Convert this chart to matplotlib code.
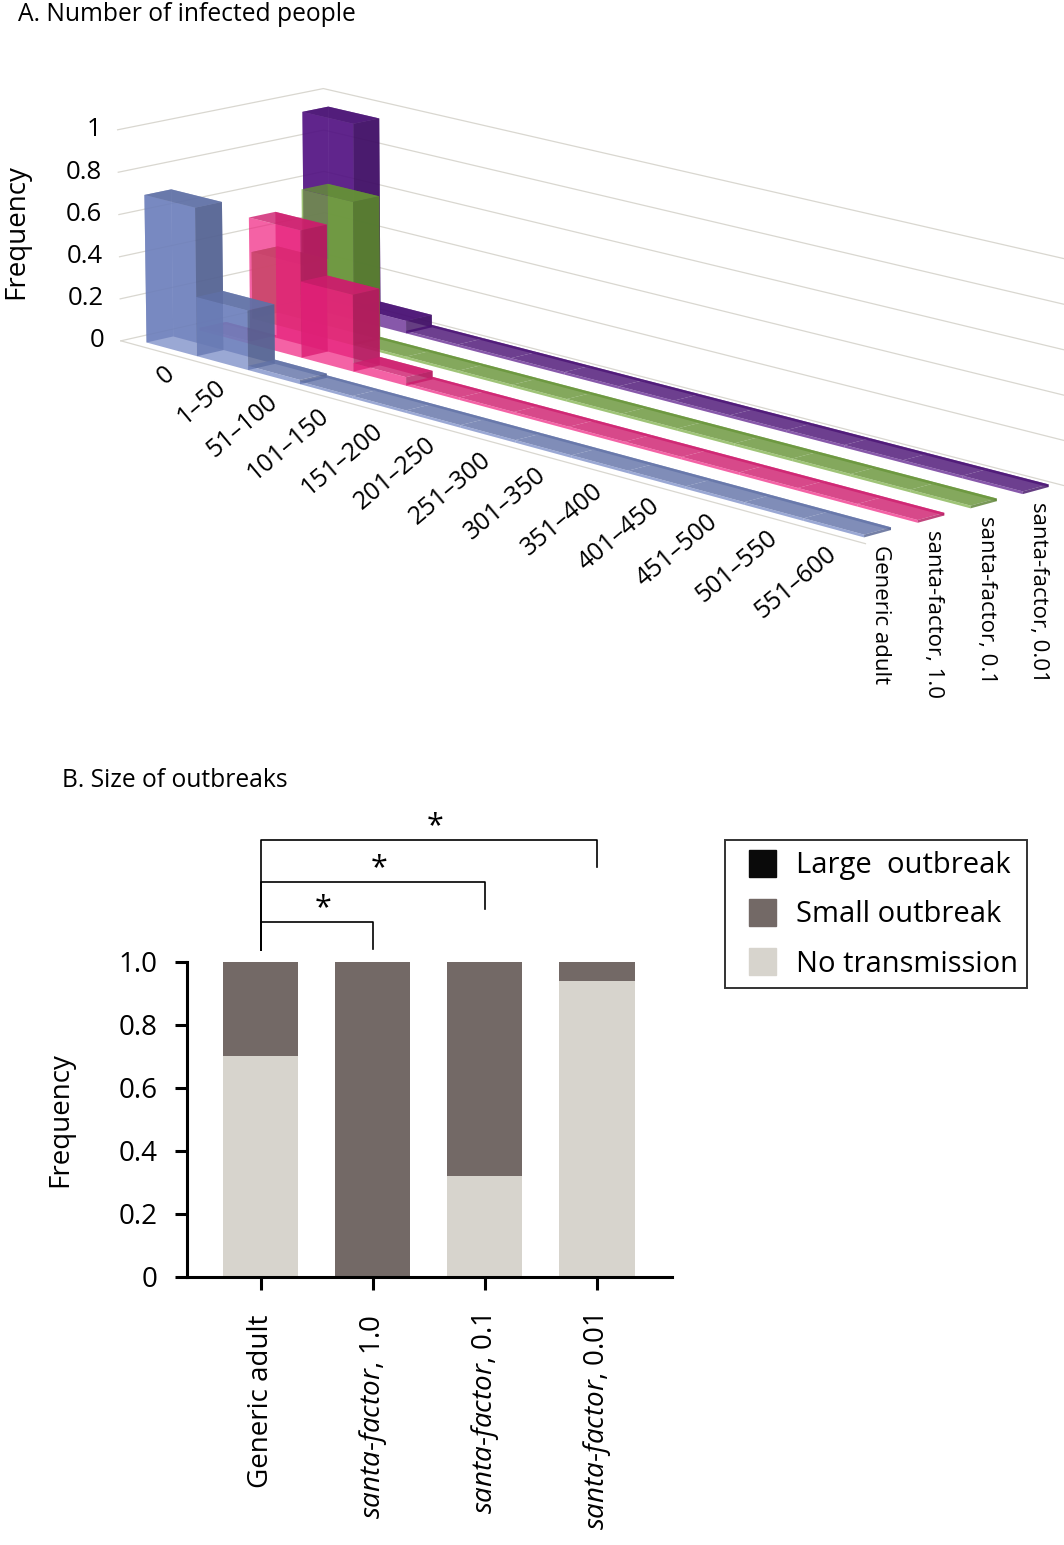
import numpy as np
import matplotlib
matplotlib.use("Agg")
import matplotlib.pyplot as plt
from matplotlib.patches import Patch, Rectangle
from matplotlib.legend_handler import HandlerPatch
from matplotlib.transforms import offset_copy
from mpl_toolkits.mplot3d import proj3d

plt.rcParams['font.family'] = ['Open Sans', 'DejaVu Sans']
plt.rcParams['mathtext.fontset'] = 'custom'
plt.rcParams['mathtext.rm'] = 'Open Sans'
plt.rcParams['mathtext.it'] = 'Open Sans:italic'

# --- Panel A data: frequency of outbreak sizes per scenario ---
size_bins = ['0', '1–50', '51–100', '101–150', '151–200', '201–250', '251–300',
             '301–350', '351–400', '401–450', '451–500', '501–550', '551–600']
series_a = ['Generic adult', 'santa-factor, 1.0', 'santa-factor, 0.1', 'santa-factor, 0.01']
freq_generic = [0.70, 0.28, 0.02, 0, 0, 0, 0, 0, 0, 0, 0, 0, 0]
freq_santa_1 = [0.00, 0.60, 0.36, 0.04, 0, 0, 0, 0, 0, 0, 0, 0, 0]
freq_santa_01 = [0.32, 0.68, 0.00, 0, 0, 0, 0, 0, 0, 0, 0, 0, 0]
freq_santa_001 = [0.94, 0.06, 0.00, 0, 0, 0, 0, 0, 0, 0, 0, 0, 0]
colors_a = ['#7083c2', '#f0207f', '#76ab3e', '#541186']
z_ticks = [0, 0.2, 0.4, 0.6, 0.8, 1]
z_ticklabels = ['0', '0.2', '0.4', '0.6', '0.8', '1']

# --- Panel B data: outbreak class per scenario ---
groups_b = ['Generic adult', '$\\mathit{santa}$-$\\mathit{factor}$, 1.0',
            '$\\mathit{santa}$-$\\mathit{factor}$, 0.1', '$\\mathit{santa}$-$\\mathit{factor}$, 0.01']
no_transmission = [0.70, 0.00, 0.32, 0.94]
small_outbreak = [0.30, 1.00, 0.68, 0.06]
large_outbreak = [0.0, 0.0, 0.0, 0.0]
y_ticks_b = [0, 0.2, 0.4, 0.6, 0.8, 1.0]
y_ticklabels_b = ['0', '0.2', '0.4', '0.6', '0.8', '1.0']
sig_pairs = [(0, 1), (0, 2), (0, 3)]

fig = plt.figure(figsize=(10.64, 15.45), dpi=100)

# ================= Panel A =================
# 3D axes are drawn in a square box, so give it a square rect
ax = fig.add_axes([0.03, 0.4505, 1.0, 1064 / 1545], projection='3d')
ax.patch.set_alpha(0)
all_freq = [freq_generic, freq_santa_1, freq_santa_01, freq_santa_001]
depth = 0.5
# face order of bar3d: -z, +z, -y, +y, -x, +x
face_shade = [0.85, 0.86, 1.0, 0.85, 0.85, 0.74]
face_alpha = [0.0, 0.8, 0.7, 0.7, 0.7, 0.8]
xs, ys, dzs, face_cols = [], [], [], []
for r, vals in enumerate(all_freq):
    base = np.array(matplotlib.colors.to_rgb(colors_a[r]))
    hts = [max(v, 0.012) for v in vals]
    for i, h in enumerate(hts):
        xs.append(i)
        ys.append(r)
        dzs.append(h)
        for k, (f, a) in enumerate(zip(face_shade, face_alpha)):
            # hide internal faces shared with a neighbouring bar
            if k == 4 and i > 0:
                a = 0.0
            if k == 5 and i < len(hts) - 1 and hts[i + 1] >= h:
                a = 0.0
            face_cols.append(tuple(base * f) + (a,))
ax.bar3d(xs, ys, np.zeros(len(xs)), 1, depth, dzs, color=face_cols,
         shade=False, edgecolor='none')

n = len(size_bins)
xmin, xmax = -0.3, n + 0.2
ymin, ymax = -0.2, len(series_a) - 0.3
ax.set_xlim(xmin, xmax)
ax.set_ylim(ymin, ymax)
ax.set_zlim(0, 1)
ax.set_box_aspect((5.25, 1.4, 1.1), zoom=1.035)
ax.set_proj_type('persp', focal_length=1.3)
ax.view_init(elev=14, azim=-44)
ax.set_axis_off()

# wall gridlines
grid_col = '#d9d7d0'
for z in z_ticks:
    ax.plot([xmin, xmin, xmax], [ymin, ymax, ymax], [z, z, z], color=grid_col, lw=0.9)
ax.plot([xmin, xmax], [ymin, ymin], [0, 0], color=grid_col, lw=0.9)

# 3D tick labels, placed in projected 2D coordinates
M = ax.get_proj()


def label3d(x, y, z, s, dx=0, dy=0, **kw):
    x2, y2, _ = proj3d.proj_transform(x, y, z, M)
    tr = offset_copy(ax.transData, fig=fig, x=dx, y=dy, units='points')
    ax.text2D(x2, y2, s, transform=tr, **kw)


for z, lab in zip(z_ticks, z_ticklabels):
    label3d(xmin, ymin, z, lab, dx=-12, ha='right', va='center', fontsize=18.5)
for i, lab in enumerate(size_bins):
    label3d(i + 0.5, ymin, 0, lab, dx=2, dy=-7, ha='right', va='top', rotation=40,
            rotation_mode='anchor', fontsize=18)
for r, lab in enumerate(series_a):
    label3d(n, r + depth / 2, 0, lab, dx=2, dy=-8, ha='center', va='top', rotation=-90, fontsize=16)

fig.text(0.017, 0.999, 'A. Number of infected people', fontsize=17.7, va='top')
fig.text(0.002, 0.85, 'Frequency', rotation=90, fontsize=20, va='center', ha='left')

# ================= Panel B =================
fig.text(0.058, 0.503, 'B. Size of outbreaks', fontsize=17.7, va='top')
axb = fig.add_axes([0.1758, 0.1735, 0.4558, 0.2039])
x = np.arange(len(groups_b))
w = 0.67
axb.bar(x, no_transmission, w, color='#d7d4cd')
axb.bar(x, small_outbreak, w, bottom=no_transmission, color='#736966')
axb.bar(x, large_outbreak, w, bottom=np.add(no_transmission, small_outbreak), color='#0a0a0a')
axb.set_xlim(-0.66, 3.67)
axb.set_ylim(0, 1.0)
axb.set_yticks(y_ticks_b)
axb.set_yticklabels(y_ticklabels_b, fontsize=20)
axb.set_xticks(x)
axb.set_xticklabels(groups_b, rotation=90, fontsize=20, va='top', ha='center')
axb.set_ylabel('Frequency', fontsize=20, labelpad=32)
for s in ['top', 'right']:
    axb.spines[s].set_visible(False)
for s in ['left', 'bottom']:
    axb.spines[s].set_linewidth(2.2)
axb.tick_params(axis='both', width=2.2, length=9)
axb.tick_params(axis='y', pad=12)
axb.tick_params(axis='x', pad=18)

# significance brackets
levels = [1.127, 1.254, 1.387]
for (a, b), lev in zip(sig_pairs, levels):
    axb.plot([a, a, b, b], [1.038, lev, lev, lev - 0.085], color='black', lw=1.2, clip_on=False)
    axb.text((a + b) / 2 + 0.05, lev - 0.005, '*', ha='center', va='bottom', fontsize=22, clip_on=False)


def square_patch(legend, orig_handle, xdescent, ydescent, width, height, fontsize):
    # square swatch pushed to the right side of the handle box
    return Rectangle((width - height - xdescent, -ydescent), height, height)


handles = [Patch(color='#0a0a0a', label='Large  outbreak'),
           Patch(color='#736966', label='Small outbreak'),
           Patch(color='#d7d4cd', label='No transmission')]
leg = fig.legend(handles=handles, loc='upper left', bbox_to_anchor=(0.681, 0.456),
                 fontsize=21, frameon=True, fancybox=False, handlelength=1.44,
                 handleheight=1.05, handletextpad=0.68, borderpad=0.32, labelspacing=0.64,
                 borderaxespad=0, handler_map={Patch: HandlerPatch(patch_func=square_patch)})
leg.get_frame().set_edgecolor('black')
leg.get_frame().set_linewidth(1.4)

fig.savefig('out.png', dpi=100)
